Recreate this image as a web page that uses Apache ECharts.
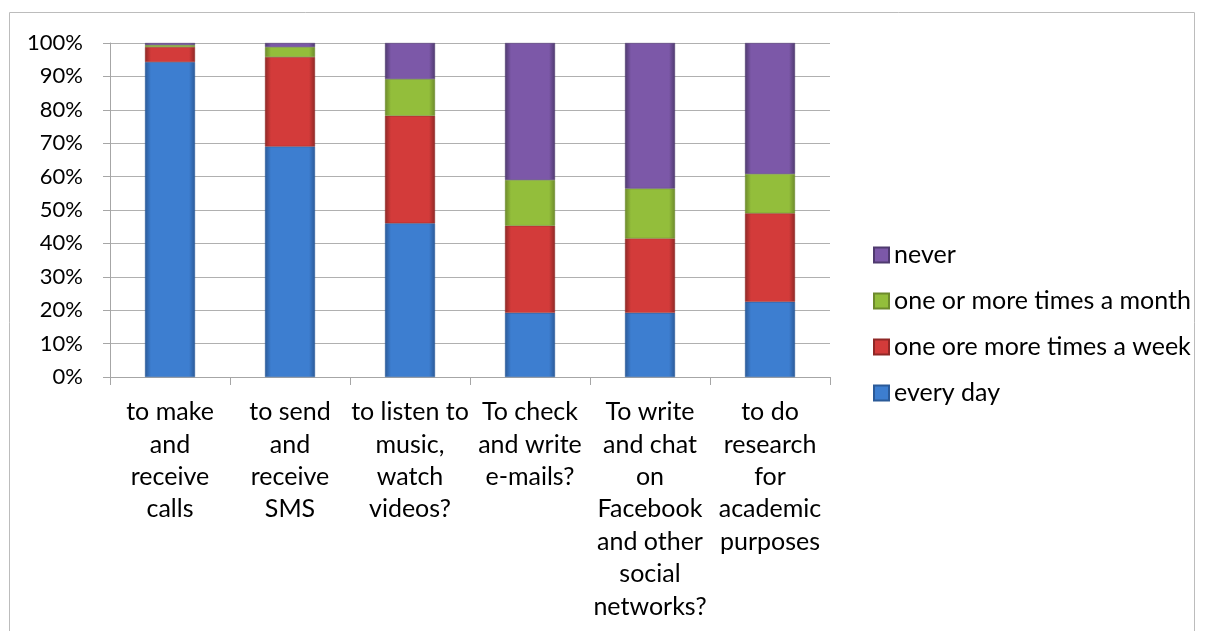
<!DOCTYPE html>
<html><head><meta charset="utf-8">
<script src="https://cdn.jsdelivr.net/npm/echarts@6/dist/echarts.min.js"></script>
<style>html,body{margin:0;padding:0;background:#fff}#c{width:1205px;height:631px}</style>
</head><body><div id="c"></div>
<script>
var categories = ['to make\nand\nreceive\ncalls','to send\nand\nreceive\nSMS','to listen to\nmusic,\nwatch\nvideos?','To check\nand write\ne-mails?','To write\nand chat\non\nFacebook\nand other\nsocial\nnetworks?','to do\nresearch\nfor\nacademic\npurposes'];
var everyDay = [94.3, 69.0, 46.0, 19.2, 19.2, 22.5];
var perWeek = [4.5, 26.8, 32.2, 26.1, 22.3, 26.5];
var perMonth = [0.6, 3.0, 11.0, 13.7, 14.9, 11.8];
var never = [0.6, 1.2, 10.8, 41.0, 43.6, 39.2];
var yTicks = ['0%','10%','20%','30%','40%','50%','60%','70%','80%','90%','100%'];

function grad(edge, mid){
  return {type:'linear',x:0,y:0,x2:1,y2:0,colorStops:[
    {offset:0,color:edge},{offset:0.12,color:mid},{offset:0.88,color:mid},{offset:1,color:edge}]};
}
var font = 'Lato, "Open Sans", sans-serif';
function ser(name, data, edge, mid){
  return {name:name,type:'bar',stack:'a',data:data,barWidth:50,
    itemStyle:{color:grad(edge,mid),borderColor:edge,borderWidth:0.5}};
}
var chart = echarts.init(document.getElementById('c'));
chart.setOption({
  animation:false,
  graphic:[{type:'rect',shape:{x:9.5,y:12.5,width:1185,height:630},style:{fill:'none',stroke:'#bcbcbc',lineWidth:1},silent:true}],
  grid:{left:110,right:375,top:43,bottom:254},
  legend:{orient:'vertical',left:868,top:236,itemWidth:15,itemHeight:15,itemGap:18,
    data:['never','one or more times a month','one ore more times a week','every day'],
    textStyle:{fontFamily:font,fontSize:25,lineHeight:28,color:'#000'},icon:'rect'},
  xAxis:{type:'category',data:categories,
    axisLine:{lineStyle:{color:'#a6a6a6'}},
    axisTick:{show:true,length:8,interval:0,lineStyle:{color:'#a6a6a6'}},
    axisLabel:{interval:0,margin:19,fontFamily:font,fontSize:25,lineHeight:32.4,color:'#000',align:'center'}},
  yAxis:{type:'value',min:0,max:100,interval:10,
    axisLine:{show:true,lineStyle:{color:'#a6a6a6'}},
    axisTick:{show:true,length:7,lineStyle:{color:'#a6a6a6'}},
    splitLine:{lineStyle:{color:'#b0b0b0'}},
    axisLabel:{margin:27,fontFamily:font,fontSize:22,color:'#000',formatter:function(v){return yTicks[Math.round(v/10)];}}},
  series:[
    ser('every day',everyDay,'#2b5a98','#3d7ed0'),
    ser('one ore more times a week',perWeek,'#8f2826','#d33b3a'),
    ser('one or more times a month',perMonth,'#6d8a2c','#93be3b'),
    ser('never',never,'#4f3a6f','#7c58a8')
  ]
});
</script></body></html>
